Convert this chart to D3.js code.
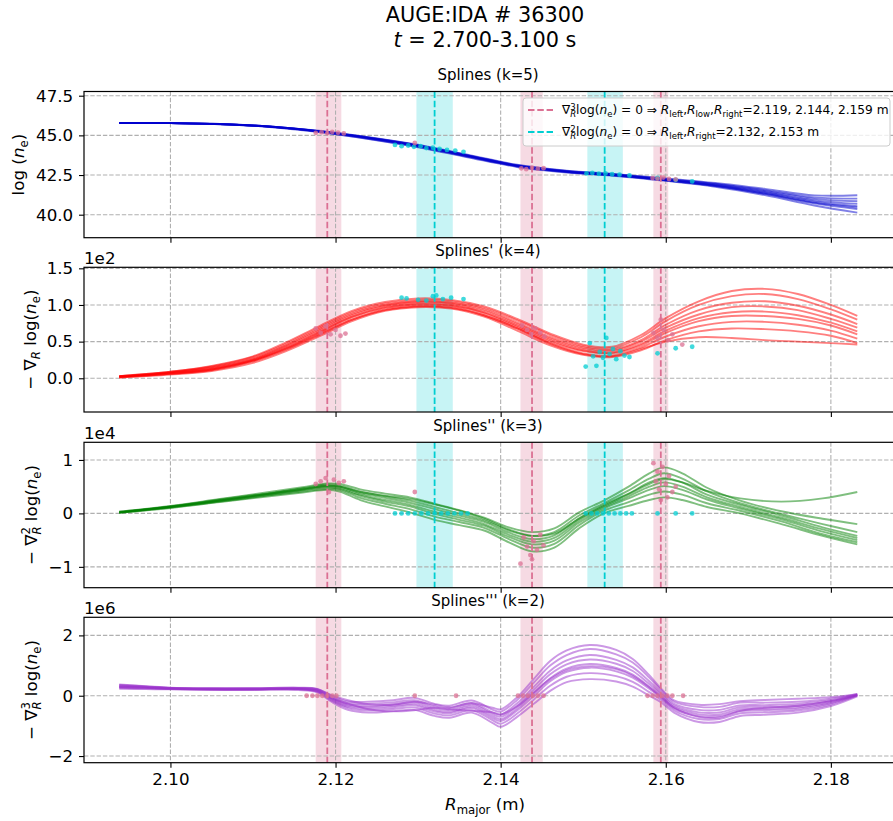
<!DOCTYPE html>
<meta charset="utf-8">
<style>
  body { margin: 0; background: #fff; }
  svg { font-family: "DejaVu Sans", sans-serif; display: block; }
  text { white-space: pre; }
</style>
<body></body>
<script src="https://cdn.jsdelivr.net/npm/d3@7"></script>
<script>
  // ---------- data ----------
  var xTicks = [2.10, 2.12, 2.14, 2.16, 2.18];

  // zero crossings (dashed lines) and their spread (shaded bands)
  var d3Zero = [2.119, 2.1438, 2.1594];
  var d3Band = [[2.1176, 2.1207], [2.1424, 2.1451], [2.1585, 2.1603]];
  var d2Zero = [2.132, 2.1526];
  var d2Band = [[2.1298, 2.1342], [2.1505, 2.1548]];

  // panel 1: log(ne), k=5
  var R1 = [2.0938, 2.100, 2.106, 2.112, 2.118, 2.124, 2.130, 2.136, 2.142, 2.148, 2.154, 2.160, 2.166, 2.172, 2.178, 2.1832];
  var splines5 = [
    [45.78, 45.77, 45.70, 45.53, 45.21, 44.77, 44.25, 43.62, 43.01, 42.66, 42.44, 42.13, 41.76, 41.23, 40.58, 40.13],
    [45.78, 45.77, 45.70, 45.54, 45.23, 44.79, 44.28, 43.65, 43.04, 42.68, 42.46, 42.16, 41.81, 41.31, 40.71, 40.35],
    [45.78, 45.77, 45.71, 45.55, 45.24, 44.82, 44.31, 43.68, 43.06, 42.71, 42.49, 42.19, 41.85, 41.38, 40.82, 40.54],
    [45.78, 45.77, 45.71, 45.55, 45.25, 44.83, 44.33, 43.70, 43.08, 42.72, 42.50, 42.21, 41.88, 41.43, 40.90, 40.68],
    [45.78, 45.77, 45.71, 45.56, 45.26, 44.85, 44.35, 43.72, 43.10, 42.74, 42.52, 42.23, 41.92, 41.49, 41.00, 40.85],
    [45.78, 45.77, 45.72, 45.56, 45.27, 44.87, 44.38, 43.75, 43.12, 42.76, 42.54, 42.26, 41.95, 41.55, 41.09, 41.01],
    [45.78, 45.77, 45.72, 45.57, 45.29, 44.89, 44.41, 43.78, 43.15, 42.78, 42.56, 42.29, 42.00, 41.63, 41.22, 41.23],
    [45.78, 45.77, 45.71, 45.56, 45.27, 44.86, 44.37, 43.73, 43.09, 42.70, 42.47, 42.17, 41.82, 41.33, 40.76, 40.45]
  ];
  var p1PinkR = [2.1176, 2.1183, 2.1190, 2.1196, 2.1203, 2.1210, 2.1296, 2.1425, 2.1431, 2.1438, 2.1445, 2.1452, 2.1584, 2.1590, 2.1597, 2.1604, 2.1612];
  var p1PinkY = [45.16, 45.20, 45.14, 45.22, 45.17, 45.12, 44.52, 42.92, 42.87, 42.96, 42.90, 42.93, 42.31, 42.27, 42.34, 42.25, 42.22];
  var p1CyanR = [2.1272, 2.1280, 2.1288, 2.1295, 2.1303, 2.1310, 2.1318, 2.1326, 2.1335, 2.1345, 2.1355, 2.1504, 2.1511, 2.1519, 2.1527, 2.1535, 2.1544, 2.1556, 2.1590, 2.1612, 2.1632];
  var p1CyanY = [44.40, 44.32, 44.36, 44.28, 44.32, 44.20, 44.22, 44.14, 44.08, 44.04, 43.96, 42.60, 42.63, 42.58, 42.60, 42.55, 42.52, 42.47, 42.32, 42.20, 42.10];

  // panel 2: -grad log(ne), k=4 (units 1e2)
  var R2 = [2.0938, 2.100, 2.105, 2.110, 2.114, 2.118, 2.122, 2.126, 2.130, 2.134, 2.138, 2.142, 2.146, 2.150, 2.1535, 2.157, 2.160, 2.164, 2.168, 2.172, 2.176, 2.180, 2.1832];
  var splines4 = [
    [0.01, 0.05, 0.10, 0.21, 0.37, 0.57, 0.78, 0.92, 0.97, 0.95, 0.84, 0.65, 0.45, 0.32, 0.29, 0.38, 0.52, 0.64, 0.68, 0.67, 0.64, 0.58, 0.48],
    [0.01, 0.06, 0.11, 0.23, 0.39, 0.59, 0.80, 0.94, 0.99, 0.97, 0.86, 0.68, 0.48, 0.34, 0.31, 0.42, 0.57, 0.71, 0.77, 0.77, 0.73, 0.65, 0.54],
    [0.02, 0.07, 0.12, 0.24, 0.41, 0.62, 0.83, 0.96, 1.01, 0.99, 0.89, 0.70, 0.50, 0.37, 0.34, 0.45, 0.62, 0.78, 0.85, 0.85, 0.81, 0.72, 0.60],
    [0.02, 0.07, 0.13, 0.25, 0.42, 0.63, 0.84, 0.97, 1.02, 1.00, 0.90, 0.72, 0.52, 0.38, 0.35, 0.47, 0.65, 0.82, 0.90, 0.91, 0.86, 0.76, 0.64],
    [0.02, 0.08, 0.14, 0.26, 0.44, 0.65, 0.86, 0.99, 1.04, 1.02, 0.92, 0.74, 0.54, 0.40, 0.37, 0.50, 0.69, 0.87, 0.97, 0.98, 0.93, 0.81, 0.69],
    [0.03, 0.08, 0.15, 0.27, 0.45, 0.67, 0.88, 1.00, 1.05, 1.03, 0.94, 0.76, 0.56, 0.42, 0.39, 0.52, 0.73, 0.93, 1.03, 1.05, 0.99, 0.87, 0.74],
    [0.03, 0.09, 0.16, 0.29, 0.47, 0.69, 0.90, 1.02, 1.07, 1.05, 0.96, 0.79, 0.59, 0.44, 0.41, 0.56, 0.78, 1.00, 1.12, 1.15, 1.08, 0.94, 0.80],
    [0.03, 0.09, 0.17, 0.30, 0.49, 0.71, 0.92, 1.04, 1.09, 1.07, 0.98, 0.81, 0.61, 0.46, 0.43, 0.59, 0.82, 1.05, 1.19, 1.22, 1.15, 1.00, 0.85],
    [0.02, 0.06, 0.12, 0.24, 0.40, 0.60, 0.80, 0.93, 0.98, 0.96, 0.86, 0.68, 0.47, 0.33, 0.30, 0.40, 0.50, 0.56, 0.55, 0.52, 0.50, 0.48, 0.46]
  ];
  var p2PinkR = [2.1176, 2.1182, 2.1188, 2.1194, 2.1200, 2.1206, 2.1212, 2.1426, 2.1432, 2.1437, 2.1442, 2.1448, 2.1453, 2.1585, 2.1590, 2.1594, 2.1598, 2.1603, 2.1608, 2.1620];
  var p2PinkY = [0.68, 0.62, 0.71, 0.60, 0.66, 0.58, 0.61, 0.72, 0.66, 0.60, 0.68, 0.62, 0.57, 0.62, 0.55, 0.80, 0.66, 0.52, 0.60, 0.46];
  var p2CyanR = [2.1280, 2.1286, 2.1300, 2.1310, 2.1318, 2.1322, 2.1330, 2.1340, 2.1355, 2.1503, 2.1508, 2.1512, 2.1516, 2.1520, 2.1524, 2.1528, 2.1532, 2.1536, 2.1540, 2.1545, 2.1550, 2.1556, 2.1590, 2.1612, 2.1632];
  var p2CyanY = [1.10, 1.09, 1.07, 1.06, 1.12, 1.13, 1.08, 1.10, 1.08, 0.16, 0.48, 0.30, 0.17, 0.36, 0.28, 0.55, 0.33, 0.40, 0.26, 0.37, 0.31, 0.29, 0.34, 0.41, 0.43];

  // panel 3: -grad^2 log(ne), k=3 (units 1e4)
  var R3 = [2.0938, 2.100, 2.106, 2.112, 2.116, 2.119, 2.1205, 2.123, 2.126, 2.129, 2.132, 2.135, 2.138, 2.141, 2.1438, 2.1465, 2.1495, 2.1525, 2.1555, 2.158, 2.1598, 2.162, 2.165, 2.169, 2.174, 2.179, 2.1832];
  var splines3 = [
    [0.01, 0.10, 0.21, 0.32, 0.39, 0.44, 0.41, 0.25, 0.13, 0.02, -0.12, -0.22, -0.32, -0.54, -0.71, -0.64, -0.28, 0.00, 0.14, 0.25, 0.30, 0.25, 0.12, 0.00, -0.20, -0.42, -0.58],
    [0.01, 0.11, 0.22, 0.34, 0.41, 0.46, 0.44, 0.29, 0.18, 0.08, -0.06, -0.16, -0.27, -0.48, -0.64, -0.57, -0.22, 0.05, 0.21, 0.35, 0.41, 0.35, 0.19, 0.05, -0.15, -0.39, -0.54],
    [0.02, 0.12, 0.23, 0.35, 0.43, 0.49, 0.46, 0.33, 0.22, 0.13, -0.01, -0.12, -0.23, -0.44, -0.58, -0.51, -0.17, 0.09, 0.28, 0.44, 0.51, 0.44, 0.26, 0.09, -0.11, -0.34, -0.50],
    [0.02, 0.12, 0.24, 0.36, 0.44, 0.50, 0.48, 0.35, 0.25, 0.16, 0.03, -0.08, -0.20, -0.40, -0.53, -0.46, -0.13, 0.12, 0.32, 0.50, 0.58, 0.50, 0.30, 0.12, -0.08, -0.30, -0.46],
    [0.02, 0.13, 0.25, 0.37, 0.46, 0.52, 0.50, 0.38, 0.29, 0.20, 0.08, -0.04, -0.16, -0.36, -0.48, -0.41, -0.09, 0.16, 0.37, 0.58, 0.66, 0.58, 0.35, 0.16, -0.04, -0.26, -0.42],
    [0.03, 0.13, 0.26, 0.38, 0.47, 0.54, 0.52, 0.41, 0.32, 0.24, 0.12, 0.00, -0.13, -0.32, -0.42, -0.35, -0.04, 0.19, 0.43, 0.65, 0.75, 0.65, 0.41, 0.19, -0.01, -0.20, -0.35],
    [0.03, 0.14, 0.27, 0.40, 0.49, 0.56, 0.55, 0.45, 0.37, 0.30, 0.18, 0.06, -0.08, -0.26, -0.35, -0.28, 0.02, 0.24, 0.50, 0.75, 0.86, 0.75, 0.48, 0.24, 0.04, -0.10, -0.20],
    [0.02, 0.12, 0.24, 0.37, 0.45, 0.52, 0.50, 0.40, 0.33, 0.27, 0.17, 0.05, -0.10, -0.30, -0.42, -0.38, -0.10, 0.14, 0.36, 0.55, 0.64, 0.58, 0.42, 0.28, 0.22, 0.28, 0.40]
  ];
  var p3PinkR = [2.1176, 2.1182, 2.1188, 2.1192, 2.1198, 2.1204, 2.1210, 2.1296, 2.1424, 2.1428, 2.1432, 2.1436, 2.1440, 2.1444, 2.1448, 2.1452, 2.1438, 2.1585, 2.1588, 2.1592, 2.1596, 2.1600, 2.1604, 2.1608, 2.1594, 2.1590, 2.1602, 2.1612];
  var p3PinkY = [0.55, 0.60, 0.66, 0.40, 0.63, 0.57, 0.60, 0.40, -0.94, -0.45, -0.62, -0.78, -0.52, -0.68, -0.40, -0.60, -0.86, 0.94, 0.60, 0.45, 0.87, 0.55, 0.70, 0.40, 0.25, 0.78, 0.30, 0.50];
  var p3CyanR = [2.1272, 2.1280, 2.1288, 2.1296, 2.1304, 2.1312, 2.1320, 2.1328, 2.1336, 2.1344, 2.1352, 2.1360, 2.1503, 2.1510, 2.1517, 2.1524, 2.1531, 2.1538, 2.1545, 2.1552, 2.1559, 2.1590, 2.1612, 2.1632];
  var p3CyanY = [0, 0, 0, 0, 0, 0, 0, 0, 0, 0, 0, 0, 0, 0, 0, 0, 0, 0, 0, 0, 0, 0, 0, 0];

  // panel 4: -grad^3 log(ne), k=2 (units 1e6)
  var R4 = [2.0938, 2.097, 2.100, 2.105, 2.110, 2.1155, 2.1178, 2.1195, 2.1215, 2.1240, 2.1270, 2.1295, 2.1320, 2.1338, 2.1365, 2.1390, 2.1400, 2.1420, 2.1440, 2.1460, 2.1480, 2.1508, 2.1540, 2.1560, 2.1580, 2.1595, 2.1610, 2.1640, 2.1665, 2.1690, 2.1720, 2.1760, 2.1800, 2.1832];
  var splines2 = [
    [0.23, 0.22, 0.21, 0.19, 0.19, 0.19, 0.11, -0.20, -0.47, -0.56, -0.51, -0.47, -0.67, -0.73, -0.56, -0.90, -1.03, -0.70, -0.27, 0.16, 0.45, 0.55, 0.47, 0.30, 0.00, -0.23, -0.56, -0.87, -0.87, -0.67, -0.63, -0.56, -0.34, -0.02],
    [0.26, 0.24, 0.22, 0.20, 0.20, 0.21, 0.13, -0.16, -0.41, -0.49, -0.44, -0.39, -0.59, -0.65, -0.48, -0.81, -0.93, -0.59, -0.13, 0.33, 0.63, 0.75, 0.65, 0.46, 0.12, -0.15, -0.49, -0.77, -0.77, -0.58, -0.55, -0.49, -0.29, 0.00],
    [0.28, 0.26, 0.23, 0.21, 0.21, 0.22, 0.16, -0.13, -0.37, -0.43, -0.38, -0.32, -0.52, -0.58, -0.41, -0.74, -0.84, -0.49, -0.01, 0.48, 0.79, 0.93, 0.81, 0.60, 0.23, -0.08, -0.43, -0.68, -0.68, -0.51, -0.48, -0.43, -0.25, 0.01],
    [0.30, 0.27, 0.24, 0.22, 0.22, 0.23, 0.17, -0.10, -0.33, -0.38, -0.33, -0.27, -0.47, -0.53, -0.36, -0.68, -0.78, -0.42, 0.08, 0.58, 0.90, 1.05, 0.92, 0.70, 0.30, -0.03, -0.38, -0.62, -0.62, -0.45, -0.43, -0.38, -0.22, 0.02],
    [0.32, 0.29, 0.25, 0.23, 0.23, 0.24, 0.19, -0.07, -0.29, -0.33, -0.28, -0.21, -0.41, -0.47, -0.30, -0.61, -0.70, -0.34, 0.19, 0.71, 1.04, 1.20, 1.06, 0.82, 0.39, 0.03, -0.33, -0.55, -0.55, -0.38, -0.37, -0.33, -0.18, 0.03],
    [0.34, 0.30, 0.26, 0.24, 0.24, 0.25, 0.21, -0.04, -0.25, -0.27, -0.22, -0.15, -0.35, -0.41, -0.24, -0.55, -0.63, -0.25, 0.29, 0.83, 1.17, 1.35, 1.19, 0.94, 0.48, 0.09, -0.27, -0.47, -0.47, -0.32, -0.31, -0.27, -0.15, 0.04],
    [0.37, 0.32, 0.27, 0.25, 0.25, 0.27, 0.23, 0.00, -0.19, -0.20, -0.15, -0.07, -0.27, -0.33, -0.16, -0.46, -0.53, -0.14, 0.43, 1.00, 1.35, 1.55, 1.37, 1.10, 0.60, 0.17, -0.20, -0.37, -0.37, -0.23, -0.23, -0.20, -0.10, 0.06],
    [0.29, 0.26, 0.24, 0.22, 0.21, 0.22, 0.15, -0.08, -0.26, -0.45, -0.52, -0.48, -0.40, -0.45, -0.50, -0.55, -0.62, -0.35, 0.10, 0.55, 0.85, 0.98, 0.88, 0.66, 0.28, -0.06, -0.40, -0.70, -0.72, -0.50, -0.40, -0.33, -0.18, 0.03],
    [0.36, 0.31, 0.26, 0.24, 0.24, 0.26, 0.22, 0.02, -0.15, -0.28, -0.30, -0.20, -0.30, -0.38, -0.25, -0.40, -0.45, -0.05, 0.55, 1.15, 1.50, 1.68, 1.52, 1.22, 0.68, 0.22, -0.15, -0.30, -0.28, -0.18, -0.14, -0.10, -0.05, 0.05]
  ];
  var p4PinkR = [2.1165, 2.1172, 2.1178, 2.1184, 2.1190, 2.1196, 2.1201, 2.1296, 2.1346, 2.1421, 2.1427, 2.1433, 2.1439, 2.1445, 2.1452, 2.1578, 2.1584, 2.1590, 2.1596, 2.1602, 2.1608, 2.1621];
  var p4PinkY = [0, 0, 0, 0, 0, 0, 0, 0, 0, 0, 0, 0, 0, 0, 0, 0, 0, 0, 0, 0, 0, 0];

  // ---------- layout ----------
  var width = 893, height = 821;
  var axLeft = 84, axRight = 897;
  var FS = 16.7;
  var pink = "#db7093", cyan = "#00ced1";

  var x = d3.scaleLinear().domain([2.08953, 2.18801]).range([axLeft, axRight]);

  var panels = [
    { top: 91.5, bot: 237.7, dom: [38.55, 47.765], ticks: [40, 42.5, 45, 47.5], fmt: d3.format(".1f"),
      R: R1, curves: splines5, color: "#0000cd", title: "Splines (k=5)", offset: null,
      pinkR: p1PinkR, pinkY: p1PinkY, cyanR: p1CyanR, cyanY: p1CyanY, labX: 24 },
    { top: 267.3, bot: 412, dom: [-0.46, 1.514], ticks: [0, 0.5, 1, 1.5], fmt: d3.format(".1f"),
      R: R2, curves: splines4, color: "#ff0000", title: "Splines' (k=4)", offset: "1e2",
      pinkR: p2PinkR, pinkY: p2PinkY, cyanR: p2CyanR, cyanY: p2CyanY, labX: 36 },
    { top: 442.3, bot: 587.7, dom: [-1.39, 1.33], ticks: [-1, 0, 1], fmt: d3.format("d"),
      R: R3, curves: splines3, color: "#008000", title: "Splines'' (k=3)", offset: "1e4",
      pinkR: p3PinkR, pinkY: p3PinkY, cyanR: p3CyanR, cyanY: p3CyanY, labX: 37 },
    { top: 617.3, bot: 762.7, dom: [-2.22, 2.6], ticks: [-2, 0, 2], fmt: d3.format("d"),
      R: R4, curves: splines2, color: "#9932cc", title: "Splines''' (k=2)", offset: "1e6",
      pinkR: p4PinkR, pinkY: p4PinkY, cyanR: [], cyanY: [], labX: 37 }
  ];

  var yLabels = [
    [{ t: "log (" }, { t: "n", it: 1 }, { t: "e", sub: 1 }, { t: ")" }],
    [{ t: "\u2212 \u2207" }, { t: "R", sub: 1, it: 1 }, { t: " log(" }, { t: "n", it: 1 }, { t: "e", sub: 1 }, { t: ")" }],
    [{ t: "\u2212 \u2207" }, { t: "2", sup: 1 }, { t: "R", sub: 1, it: 1, dx: -0.445 }, { t: " log(" }, { t: "n", it: 1 }, { t: "e", sub: 1 }, { t: ")" }],
    [{ t: "\u2212 \u2207" }, { t: "3", sup: 1 }, { t: "R", sub: 1, it: 1, dx: -0.445 }, { t: " log(" }, { t: "n", it: 1 }, { t: "e", sub: 1 }, { t: ")" }]
  ];

  // text with sub/superscripts through relative tspans
  function rich(text, parts, size) {
    var base = 0;
    parts.forEach(function(p) {
      var small = p.sub || p.sup;
      var off = p.sub ? 0.22 * size : p.sup ? -0.4 * size : 0;
      var ts = text.append("tspan").text(p.t)
        .attr("font-size", small ? size * 0.7 : size);
      if (off - base) ts.attr("dy", off - base);
      if (p.it) ts.attr("font-style", "italic");
      if (p.dx) ts.attr("dx", p.dx * size);
      base = off;
    });
    return text;
  }

  var svg = d3.select("body").append("svg")
    .attr("width", width)
    .attr("height", height);
  var defs = svg.append("defs");

  // suptitle
  svg.append("text").attr("x", 485).attr("y", 21.5).attr("text-anchor", "middle")
    .attr("font-size", 20.8).text("AUGE:IDA # 36300");
  rich(svg.append("text").attr("x", 485).attr("y", 47).attr("text-anchor", "middle"),
    [{ t: "t", it: 1 }, { t: " = 2.700-3.100 s" }], 20.8);

  panels.forEach(function(p, i) {
    var y = d3.scaleLinear().domain(p.dom).range([p.bot, p.top]);

    defs.append("clipPath").attr("id", "clip" + i)
      .append("rect")
      .attr("x", axLeft).attr("y", p.top)
      .attr("width", axRight - axLeft).attr("height", p.bot - p.top);

    var plot = svg.append("g").attr("clip-path", "url(#clip" + i + ")");

    // shaded bands
    plot.selectAll(".b3").data(d3Band).join("rect")
      .attr("x", function(d) { return x(d[0]); })
      .attr("width", function(d) { return x(d[1]) - x(d[0]); })
      .attr("y", p.top).attr("height", p.bot - p.top)
      .attr("fill", pink).attr("fill-opacity", 0.26);
    plot.selectAll(".b2").data(i < 3 ? d2Band : []).join("rect")
      .attr("x", function(d) { return x(d[0]); })
      .attr("width", function(d) { return x(d[1]) - x(d[0]); })
      .attr("y", p.top).attr("height", p.bot - p.top)
      .attr("fill", cyan).attr("fill-opacity", 0.22);

    // grid
    plot.selectAll(".gx").data(xTicks).join("line")
      .attr("x1", x).attr("x2", x).attr("y1", p.top).attr("y2", p.bot);
    plot.selectAll(".gy").data(p.ticks).join("line")
      .attr("x1", axLeft).attr("x2", axRight)
      .attr("y1", y).attr("y2", y);
    plot.selectAll("line")
      .attr("stroke", "#b0b0b0").attr("stroke-width", 1.1)
      .attr("stroke-dasharray", "4.4,1.9");

    // spline ensemble
    var line = d3.line()
      .x(function(d, j) { return x(p.R[j]); })
      .y(function(d) { return y(d); })
      .curve(d3.curveCatmullRom.alpha(0.5));
    plot.append("g").selectAll("path").data(p.curves).join("path")
      .attr("d", line)
      .attr("fill", "none")
      .attr("stroke", p.color)
      .attr("stroke-width", 1.9)
      .attr("stroke-opacity", 0.5);

    // zero-crossing lines
    plot.append("g").selectAll("line").data(d3Zero).join("line")
      .attr("x1", x).attr("x2", x).attr("y1", p.top).attr("y2", p.bot)
      .attr("stroke", pink).attr("stroke-width", 1.8).attr("stroke-dasharray", "6.5,2.8");
    plot.append("g").selectAll("line").data(i < 3 ? d2Zero : []).join("line")
      .attr("x1", x).attr("x2", x).attr("y1", p.top).attr("y2", p.bot)
      .attr("stroke", cyan).attr("stroke-width", 1.8).attr("stroke-dasharray", "6.5,2.8");

    // points
    plot.append("g").selectAll("circle").data(p.cyanR).join("circle")
      .attr("cx", x).attr("cy", function(d, j) { return y(p.cyanY[j]); })
      .attr("r", 2.4).attr("fill", cyan).attr("fill-opacity", 0.75);
    plot.append("g").selectAll("circle").data(p.pinkR).join("circle")
      .attr("cx", x).attr("cy", function(d, j) { return y(p.pinkY[j]); })
      .attr("r", 2.4).attr("fill", pink).attr("fill-opacity", 0.75);

    // axes
    var ax = svg.append("g")
      .attr("transform", "translate(0," + p.bot + ")")
      .call(d3.axisBottom(x).tickValues(xTicks).tickSize(5).tickPadding(5.8)
        .tickFormat(i === 3 ? d3.format(".2f") : function() { return ""; }));
    var ay = svg.append("g")
      .attr("transform", "translate(" + axLeft + ",0)")
      .call(d3.axisLeft(y).tickValues(p.ticks).tickSize(5).tickPadding(5.8).tickFormat(p.fmt));
    [ax, ay].forEach(function(a) {
      a.select(".domain").remove();
      a.selectAll("line").attr("stroke", "#000").attr("stroke-width", 1.1);
      a.selectAll("text").attr("font-size", FS).attr("font-family", "DejaVu Sans").attr("fill", "#000");
    });

    // frame
    svg.append("rect")
      .attr("x", axLeft).attr("y", p.top)
      .attr("width", axRight - axLeft).attr("height", p.bot - p.top)
      .attr("fill", "none").attr("stroke", "#000").attr("stroke-width", 1.2);

    // title, offset text, y label
    svg.append("text").attr("x", 488).attr("y", p.top - 11.5)
      .attr("text-anchor", "middle").attr("font-size", 15).text(p.title);
    if (p.offset) {
      svg.append("text").attr("x", axLeft).attr("y", p.top - 3.5)
        .attr("font-size", FS).text(p.offset);
    }
    rich(svg.append("text")
      .attr("transform", "translate(" + p.labX + "," + ((p.top + p.bot) / 2) + ") rotate(-90)")
      .attr("text-anchor", "middle"), yLabels[i], FS);
  });

  // x label
  rich(svg.append("text").attr("x", 485).attr("y", 810).attr("text-anchor", "middle"),
    [{ t: "R", it: 1 }, { t: "major", sub: 1 }, { t: " (m)" }], FS);

  // legend in the top panel
  var lg = svg.append("g");
  lg.append("rect")
    .attr("x", 523).attr("y", 98).attr("width", 367).attr("height", 48)
    .attr("rx", 3).attr("fill", "#fff").attr("fill-opacity", 0.8)
    .attr("stroke", "#cccccc").attr("stroke-width", 1);
  var LS = 12.2;
  var legendRows = [
    { color: pink, y: 110, parts: [{ t: "\u2207" }, { t: "3", sup: 1 }, { t: "R", sub: 1, it: 1, dx: -0.445 },
      { t: "log(" }, { t: "n", it: 1 }, { t: "e", sub: 1 }, { t: ") = 0 \u21d2 " },
      { t: "R", it: 1 }, { t: "left", sub: 1 }, { t: "," }, { t: "R", it: 1 }, { t: "low", sub: 1 }, { t: "," },
      { t: "R", it: 1 }, { t: "right", sub: 1 }, { t: "=2.119, 2.144, 2.159 m" }] },
    { color: cyan, y: 132, parts: [{ t: "\u2207" }, { t: "2", sup: 1 }, { t: "R", sub: 1, it: 1, dx: -0.445 },
      { t: "log(" }, { t: "n", it: 1 }, { t: "e", sub: 1 }, { t: ") = 0 \u21d2 " },
      { t: "R", it: 1 }, { t: "left", sub: 1 }, { t: "," }, { t: "R", it: 1 }, { t: "right", sub: 1 },
      { t: "=2.132, 2.153 m" }] }
  ];
  legendRows.forEach(function(r) {
    lg.append("line").attr("x1", 528).attr("x2", 553).attr("y1", r.y).attr("y2", r.y)
      .attr("stroke", r.color).attr("stroke-width", 1.8).attr("stroke-dasharray", "6.5,2.8");
    rich(lg.append("text").attr("x", 562).attr("y", r.y + 4.4), r.parts, LS);
  });
</script>
